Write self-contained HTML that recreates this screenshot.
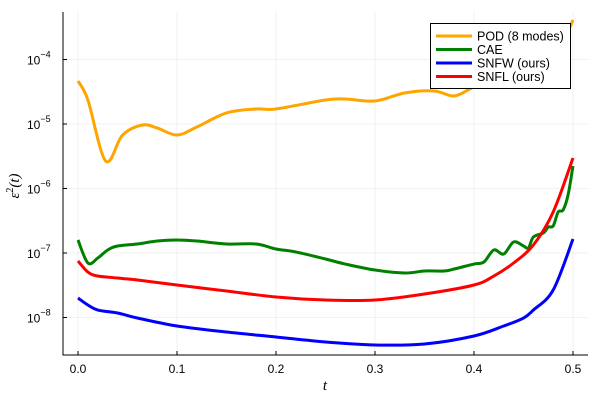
<!DOCTYPE html>
<html><head><meta charset="utf-8"><style>
body{margin:0;background:#fff;}
svg{display:block;font-family:"Liberation Sans",sans-serif;}
</style></head><body>
<svg id="chart" width="600" height="400"></svg>
<script>
const podT=[0,0.01,0.028,0.045,0.065,0.08,0.1,0.12,0.15,0.18,0.2,0.25,0.27,0.3,0.33,0.36,0.38,0.4,0.43,0.46,0.49,0.5];
const podLog=[-4.333,-4.628,-5.574,-5.171,-5.016,-5.062,-5.171,-5.047,-4.829,-4.767,-4.767,-4.628,-4.612,-4.643,-4.519,-4.488,-4.566,-4.426,-4.240,-4.008,-3.667,-3.388];
const caeT=[0,0.01,0.02,0.03,0.04,0.06,0.08,0.1,0.12,0.15,0.18,0.2,0.22,0.25,0.27,0.3,0.33,0.35,0.37,0.38,0.4,0.41,0.42,0.43,0.44,0.45,0.455,0.46,0.47,0.475,0.48,0.485,0.49,0.495,0.5];
const caeLog=[-6.798,-7.155,-7.078,-6.953,-6.891,-6.860,-6.814,-6.798,-6.814,-6.860,-6.860,-6.938,-6.984,-7.093,-7.171,-7.264,-7.310,-7.279,-7.279,-7.248,-7.171,-7.140,-6.953,-7.016,-6.829,-6.891,-6.922,-6.752,-6.690,-6.597,-6.581,-6.364,-6.333,-6.101,-5.651];
const snflT=[0,0.01,0.02,0.04,0.06,0.1,0.15,0.2,0.25,0.3,0.35,0.4,0.42,0.44,0.46,0.48,0.5];
const snflLog=[-7.124,-7.295,-7.357,-7.388,-7.419,-7.496,-7.589,-7.682,-7.729,-7.729,-7.636,-7.496,-7.357,-7.155,-6.876,-6.364,-5.527];
const snfwT=[0,0.01,0.02,0.04,0.06,0.1,0.15,0.2,0.25,0.3,0.35,0.4,0.43,0.45,0.46,0.48,0.5];
const snfwLog=[-7.698,-7.806,-7.884,-7.930,-8.008,-8.132,-8.225,-8.302,-8.380,-8.426,-8.411,-8.287,-8.132,-8.008,-7.884,-7.574,-6.783];
const xTicks=[0,0.1,0.2,0.3,0.4,0.5];
const xTickLabels=["0.0","0.1","0.2","0.3","0.4","0.5"];
const yTickExp=[-4,-5,-6,-7,-8];

const NS="http://www.w3.org/2000/svg";
const svg=document.getElementById('chart');
const L=63,R=588,T=12,B=355;
const xs=t=>78+t*990;
const ys=lg=>59.5-(lg+4)*64.5;
function mk(tag,attrs,parent){const e=document.createElementNS(NS,tag);for(const k in attrs)e.setAttribute(k,attrs[k]);(parent||svg).appendChild(e);return e;}

xTicks.forEach((t,i)=>{
  const g=mk('line',{x1:xs(t),x2:xs(t),y1:T,y2:B,stroke:'#000','stroke-opacity':0.1,'stroke-width':0.5});
  
  
  const tk=mk('line',{x1:xs(t),x2:xs(t),y1:B,y2:B-4,stroke:'#000','stroke-width':1});
  
  
  const tx=mk('text',{x:xs(t),y:373,'text-anchor':'middle','font-size':12,fill:'#000'});
  tx.textContent=xTickLabels[i];
  
  
});
yTickExp.forEach(e=>{
  const y=ys(e);
  const g=mk('line',{x1:L,x2:R,y1:y,y2:y,stroke:'#000','stroke-opacity':0.1,'stroke-width':0.5});
  
  
  const tk=mk('line',{x1:L,x2:L+4,y1:y,y2:y,stroke:'#000','stroke-width':1});
  
  
  const tx=mk('text',{x:27,y:y+5,'font-size':12,fill:'#000'});
  tx.innerHTML='10<tspan dy="-7" font-size="9">\u2212'+(-e)+'</tspan>';
  
  
});
const ax=mk('path',{d:`M${L},${T}V${B}H${R}`,fill:'none',stroke:'#000','stroke-width':1});



function smooth(pts){
  let d=`M${pts[0][0]},${pts[0][1]}`;
  for(let i=0;i<pts.length-1;i++){
    const p0=pts[Math.max(0,i-1)],p1=pts[i],p2=pts[i+1],p3=pts[Math.min(pts.length-1,i+2)];
    const c1=[p1[0]+(p2[0]-p0[0])/6,p1[1]+(p2[1]-p0[1])/6];
    const c2=[p2[0]-(p3[0]-p1[0])/6,p2[1]-(p3[1]-p1[1])/6];
    d+=`C${c1[0]},${c1[1]} ${c2[0]},${c2[1]} ${p2[0]},${p2[1]}`;
  }
  return d;
}
const series=[
  {t:podT,v:podLog,c:'#FFA500',n:'pod-line'},
  {t:caeT,v:caeLog,c:'#008000',n:'cae-line'},
  {t:snfwT,v:snfwLog,c:'#0000FF',n:'snfw-line'},
  {t:snflT,v:snflLog,c:'#FF0000',n:'snfl-line'}
];
series.forEach(s=>{
  const pts=s.t.map((t,i)=>[xs(t),ys(s.v[i])]);
  const p=mk('path',{d:smooth(pts),fill:'none',stroke:s.c,'stroke-width':3,'stroke-linejoin':'round'});
  
  
});

const xl=mk('text',{x:325,y:390,'text-anchor':'middle','font-size':15,'font-style':'italic','font-family':'Liberation Serif,serif'});
xl.textContent='t';


const yl=mk('text',{x:0,y:0,'text-anchor':'middle','font-size':15,'font-style':'italic','font-family':'Liberation Serif,serif',transform:'translate(19,186) rotate(-90)'});
yl.innerHTML='ε<tspan dy="-6" font-size="10" font-style="normal">2</tspan><tspan dy="6">(t)</tspan>';



const lg=mk('g',{});


mk('rect',{x:430.5,y:23.5,width:140,height:65,fill:'#fff',stroke:'#000','stroke-width':1},lg);
const names=['POD (8 modes)','CAE','SNFW (ours)','SNFL (ours)'];
const cols=['#FFA500','#008000','#0000FF','#FF0000'];
names.forEach((n,i)=>{
  const y=36+i*13.5;
  const e=mk('g',{},lg);
  
  
  mk('line',{x1:436,x2:472,y1:y,y2:y,stroke:cols[i],'stroke-width':3},e);
  const t=mk('text',{x:477,y:y+4.5,'font-size':12.5},e);
  t.textContent=n;
});
</script>
</body></html>
